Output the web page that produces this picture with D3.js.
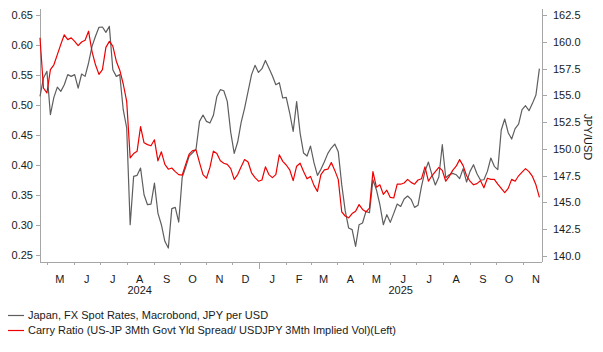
<!DOCTYPE html>
<html>
<head>
<meta charset="utf-8">
<script src="https://cdn.jsdelivr.net/npm/d3@7/dist/d3.min.js"></script>
<style>
  html, body { margin: 0; padding: 0; background: #fff; }
  svg { display: block; }
  text { font-family: "Liberation Sans", Arial, sans-serif; }
</style>
</head>
<body>
<svg id="chart" width="603" height="352"></svg>
<script>
// ---------------- DATA ----------------
const dates = [
"2024-04-23","2024-04-27",
"2024-05-01","2024-05-05","2024-05-09","2024-05-13","2024-05-17","2024-05-21","2024-05-25","2024-05-29",
"2024-06-02","2024-06-06","2024-06-10","2024-06-14","2024-06-18","2024-06-22","2024-06-26","2024-06-30",
"2024-07-04","2024-07-08","2024-07-12","2024-07-16","2024-07-20","2024-07-24","2024-07-28",
"2024-08-01","2024-08-05","2024-08-09","2024-08-13","2024-08-17","2024-08-21","2024-08-25","2024-08-29",
"2024-09-02","2024-09-06","2024-09-10","2024-09-14","2024-09-18","2024-09-22","2024-09-26","2024-09-30",
"2024-10-04","2024-10-08","2024-10-12","2024-10-16","2024-10-20","2024-10-24","2024-10-28",
"2024-11-01","2024-11-05","2024-11-09","2024-11-13","2024-11-17","2024-11-21","2024-11-25","2024-11-29",
"2024-12-03","2024-12-07","2024-12-11","2024-12-15","2024-12-19","2024-12-23","2024-12-27","2024-12-31",
"2025-01-04","2025-01-08","2025-01-12","2025-01-16","2025-01-20","2025-01-24","2025-01-28",
"2025-02-01","2025-02-05","2025-02-09","2025-02-13","2025-02-17","2025-02-21","2025-02-25",
"2025-03-01","2025-03-05","2025-03-09","2025-03-13","2025-03-17","2025-03-21","2025-03-25","2025-03-29",
"2025-04-02","2025-04-06","2025-04-10","2025-04-14","2025-04-18","2025-04-22","2025-04-26","2025-04-30",
"2025-05-04","2025-05-08","2025-05-12","2025-05-16","2025-05-20","2025-05-24","2025-05-28",
"2025-06-01","2025-06-05","2025-06-09","2025-06-13","2025-06-17","2025-06-21","2025-06-25","2025-06-29",
"2025-07-03","2025-07-07","2025-07-11","2025-07-15","2025-07-19","2025-07-23","2025-07-27","2025-07-31",
"2025-08-04","2025-08-08","2025-08-12","2025-08-16","2025-08-20","2025-08-24","2025-08-28",
"2025-09-01","2025-09-05","2025-09-09","2025-09-13","2025-09-17","2025-09-21","2025-09-25","2025-09-29",
"2025-10-03","2025-10-07","2025-10-11","2025-10-15","2025-10-19","2025-10-23","2025-10-27","2025-10-31",
"2025-11-04","2025-11-08","2025-11-12","2025-11-16","2025-11-20"
];

// Japan, FX Spot Rates, JPY per USD (right axis)
const usdjpy = [
154.90,156.62,157.24,153.19,154.81,155.77,155.37,155.99,156.93,156.77,
156.93,155.68,156.99,156.77,158.02,159.57,160.51,161.35,161.38,160.88,
161.44,157.39,156.77,156.93,153.66,151.95,142.92,147.43,147.53,148.21,
145.72,144.79,144.85,146.81,144.01,142.92,141.37,140.74,144.42,144.54,
143.17,147.34,148.28,149.33,149.64,149.99,152.57,153.16,152.57,152.41,
153.13,154.90,155.53,155.43,154.44,151.54,149.58,150.64,152.48,153.81,
155.37,156.93,157.80,157.14,157.49,158.26,157.55,156.83,155.99,156.18,
154.75,154.81,153.35,151.64,154.41,151.48,149.61,149.33,150.27,148.71,
147.53,148.09,148.80,149.58,150.08,150.45,149.74,146.66,144.23,142.61,
142.46,140.90,142.92,143.08,144.17,144.04,147.12,146.19,144.79,142.92,
143.86,143.14,143.98,144.85,144.63,145.32,145.60,145.29,144.54,144.73,
146.50,147.90,148.77,147.59,146.63,147.37,150.39,147.31,147.59,147.71,
147.59,147.22,148.15,146.91,147.90,148.52,147.68,147.09,147.12,147.90,
149.15,148.37,148.06,151.76,152.79,151.51,150.92,151.89,152.32,153.66,
154.03,153.57,154.25,155.03,157.49
];

// Carry Ratio (left axis)
const carryRatio = [
0.612,0.528,0.520,0.559,0.567,0.584,0.601,0.617,0.609,0.612,
0.606,0.599,0.605,0.608,0.623,0.589,0.567,0.551,0.559,0.596,
0.606,0.598,0.573,0.558,0.535,0.506,0.412,0.419,0.423,0.464,
0.437,0.434,0.432,0.442,0.407,0.422,0.401,0.393,0.395,0.389,
0.384,0.383,0.401,0.418,0.424,0.425,0.404,0.384,0.378,0.396,
0.423,0.419,0.407,0.403,0.401,0.394,0.376,0.384,0.397,0.409,
0.405,0.387,0.379,0.373,0.375,0.397,0.384,0.379,0.384,0.417,
0.406,0.400,0.392,0.374,0.398,0.403,0.389,0.377,0.381,0.366,
0.356,0.384,0.392,0.393,0.404,0.391,0.376,0.322,0.315,0.312,
0.319,0.323,0.334,0.326,0.322,0.328,0.389,0.363,0.367,0.351,
0.358,0.346,0.345,0.368,0.368,0.370,0.376,0.371,0.368,0.375,
0.377,0.397,0.373,0.382,0.389,0.396,0.391,0.373,0.381,0.391,
0.398,0.409,0.399,0.382,0.373,0.367,0.369,0.374,0.362,0.378,
0.376,0.376,0.368,0.361,0.354,0.361,0.376,0.373,0.382,0.388,
0.394,0.389,0.381,0.367,0.346
];

const leftTicks = [0.25,0.30,0.35,0.40,0.45,0.50,0.55,0.60,0.65];
const rightTicks = [140.0,142.5,145.0,147.5,150.0,152.5,155.0,157.5,160.0,162.5];
const monthLetters = ["J","F","M","A","M","J","J","A","S","O","N","D"];
const seriesNames = [
  "Japan, FX Spot Rates, Macrobond, JPY per USD",
  "Carry Ratio (US-JP 3Mth Govt Yld Spread/ USDJPY 3Mth Implied Vol)(Left)"
];
const rightTitle = "JPY/USD";

// ---------------- CHART ----------------
const parse = d3.timeParse("%Y-%m-%d");
const dt = dates.map(parse);
const grayColor = "#5e5e5e";
const redColor = "#ee0000";
const axisColor = "#a6a6a6";
const textColor = "#1a1a1a";

const svg = d3.select("#chart");
const xL = 40, xR = 542, yTop = 9, yBot = 262;

const x = d3.scaleTime()
  .domain([parse("2024-04-23"), parse("2025-11-23")])
  .range([xL, xR]);
const yL = d3.scaleLinear().domain([0.25, 0.65]).range([255, 15]);
const yR = d3.scaleLinear().domain([140, 162.5]).range([256, 15]);

// Axis lines
svg.append("line").attr("x1", xL).attr("x2", xL).attr("y1", yTop).attr("y2", yBot)
  .attr("stroke", axisColor).attr("stroke-width", 1).attr("shape-rendering", "crispEdges");
svg.append("line").attr("x1", xR).attr("x2", xR).attr("y1", yTop).attr("y2", yBot)
  .attr("stroke", axisColor).attr("stroke-width", 1).attr("shape-rendering", "crispEdges");
svg.append("line").attr("x1", xL).attr("x2", xR).attr("y1", yBot).attr("y2", yBot)
  .attr("stroke", axisColor).attr("stroke-width", 1).attr("shape-rendering", "crispEdges");

// Left axis
const gL = svg.append("g").attr("transform", `translate(${xL},0)`)
  .call(d3.axisLeft(yL).tickValues(leftTicks).tickFormat(d3.format(".2f")).tickSize(4).tickPadding(3));
// Right axis
const gR = svg.append("g").attr("transform", `translate(${xR},0)`)
  .call(d3.axisRight(yR).tickValues(rightTicks).tickFormat(d3.format(".1f")).tickSize(5).tickPadding(6));
[gL, gR].forEach(g => {
  g.select(".domain").remove();
  g.selectAll(".tick line").attr("stroke", axisColor).attr("shape-rendering", "crispEdges");
  g.selectAll(".tick text").attr("fill", textColor).style("font-size", "11px")
    .style("font-family", '"Liberation Sans", Arial, sans-serif');
});

// Bottom axis: month ticks
const months = d3.timeMonth.range(d3.timeMonth.ceil(x.domain()[0]), x.domain()[1]);
const gB = svg.append("g");
gB.selectAll("line.mt").data(months).join("line")
  .attr("class", "mt")
  .attr("x1", d => Math.round(x(d)) + 0.5).attr("x2", d => Math.round(x(d)) + 0.5)
  .attr("y1", yBot).attr("y2", d => d.getMonth() === 0 ? yBot + 7 : yBot + 3)
  .attr("stroke", axisColor).attr("stroke-width", 1);

// Month labels at mid-month
gB.selectAll("text.ml").data(months).join("text")
  .attr("class", "ml")
  .attr("x", d => x(new Date(d.getFullYear(), d.getMonth(), 16)))
  .attr("y", 282.5)
  .attr("text-anchor", "middle")
  .attr("fill", textColor).style("font-size", "11px")
  .text(d => monthLetters[d.getMonth()]);

// Year labels
const jan2025 = parse("2025-01-01");
const yearPos = [
  { label: "2024", x: x(parse("2024-08-16")) },
  { label: "2025", x: (x(jan2025) + xR) / 2 }
];
gB.selectAll("text.yl").data(yearPos).join("text")
  .attr("class", "yl")
  .attr("x", d => d.x).attr("y", 293.5)
  .attr("text-anchor", "middle")
  .attr("fill", textColor).style("font-size", "11px")
  .text(d => d.label);

// Right axis title
svg.append("text")
  .attr("transform", `translate(584,137) rotate(90)`)
  .attr("text-anchor", "middle")
  .attr("fill", textColor).style("font-size", "11px")
  .text(rightTitle);

// Lines
const lineR = d3.line().x((d, i) => x(dt[i])).y(d => yR(d));
const lineL = d3.line().x((d, i) => x(dt[i])).y(d => yL(d));

svg.append("path").datum(usdjpy)
  .attr("d", lineR).attr("fill", "none")
  .attr("stroke", grayColor).attr("stroke-width", 1.2).attr("stroke-linejoin", "round");
svg.append("path").datum(carryRatio)
  .attr("d", lineL).attr("fill", "none")
  .attr("stroke", redColor).attr("stroke-width", 1.2).attr("stroke-linejoin", "round");

// Legend
const legend = svg.append("g");
const legendItems = [
  { name: seriesNames[0], color: grayColor, y: 315.5 },
  { name: seriesNames[1], color: redColor, y: 330.5 }
];
legendItems.forEach(it => {
  legend.append("line").attr("x1", 8).attr("x2", 24).attr("y1", it.y).attr("y2", it.y)
    .attr("stroke", it.color).attr("stroke-width", 1.2);
  legend.append("text").attr("x", 28).attr("y", it.y).attr("dy", "0.35em")
    .attr("fill", textColor).style("font-size", "11px").text(it.name);
});
</script>
</body>
</html>
